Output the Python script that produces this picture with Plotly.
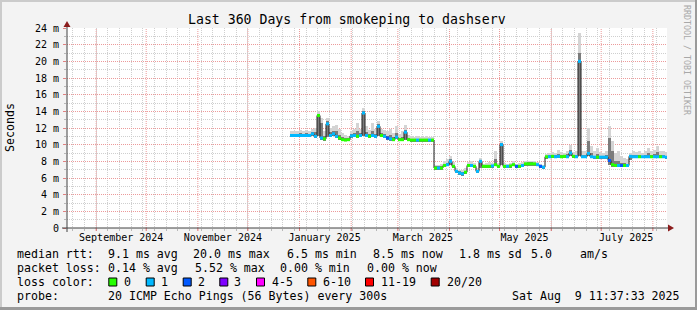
import pandas as pd
import plotly.graph_objects as go

# ---------------- data ----------------
TITLE = "Last 360 Days from smokeping to dashserv"
Y_LABEL = "Seconds"
WATERMARK = "RRDTOOL / TOBI OETIKER"
X_START = "2024-08-14 11:37:33"
X_END = "2025-08-09 11:37:33"

y_tick_values = [0, 2, 4, 6, 8, 10, 12, 14, 16, 18, 20, 22, 24]
y_tick_labels = ["0", "2 m", "4 m", "6 m", "8 m", "10 m", "12 m", "14 m",
                 "16 m", "18 m", "20 m", "22 m", "24 m"]
x_label_dates = ["2024-09-16", "2024-11-16", "2025-01-16",
                 "2025-03-16", "2025-05-16", "2025-07-16"]
x_label_texts = ["September 2024", "November 2024", "January 2025",
                 "March 2025", "May 2025", "July 2025"]

# consolidated RRD bins (1.8 days each) starting here
BIN_START = "2024-12-26 06:49:33"
BIN_HOURS = 43.2

median_ms = [
    11.1, 11.1, 11.1, 11.1, 11.1, 11.1, 11.1, 11.3,
    11.0, 13.5, 10.8, 10.7, 12.5, 11.1, 11.3, 11.0,
    10.8, 10.6, 10.55, 10.6, 11.05, 11.1, 11.0, 11.1,
    13.8, 11.1, 11.0, 11.1, 11.0, 12.2, 11.1, 11.0,
    10.8, 10.7, 10.6, 10.9, 10.6, 10.6, 11.5, 10.6,
    10.55, 10.55, 10.55, 10.55, 10.55, 10.55, 10.55, 10.55,
    7.2, 7.2, 7.2, 7.5, 7.6, 8.0, 7.4, 6.8,
    6.6, 6.5, 6.7, 7.5, 7.5, 7.4, 6.8, 8.0,
    7.4, 7.4, 7.4, 7.45, 7.6, 7.4, 10.0, 7.4,
    7.4, 7.45, 7.6, 7.4, 7.4, 7.5, 7.7, 7.7,
    7.7, 7.7, 7.6, 7.4, 7.3, 8.55, 8.55, 8.6,
    8.55, 8.6, 8.55, 8.6, 8.55, 9.0, 8.6, 8.55,
    20.0, 8.55, 8.55, 8.95, 8.55, 8.5, 8.5, 8.5,
    8.5, 8.5, 8.1, 7.6, 7.5, 7.5, 7.5, 7.5,
    7.5, 8.6, 8.55, 8.55, 8.55, 8.55, 8.55, 8.55,
    8.55, 8.55, 8.55, 8.55, 8.55, 8.5,
]

loss_pings = [
    1, 1, 1, 1, 1, 1, 1, 1,
    1, 0, 1, 0, 1, 1, 1, 1,
    0, 0, 0, 0, 1, 1, 0, 1,
    1, 1, 0, 1, 1, 1, 0, 1,
    2, 1, 0, 1, 0, 0, 1, 0,
    0, 0, 1, 0, 0, 0, 1, 0,
    0, 1, 0, 0, 1, 1, 0, 1,
    1, 1, 0, 0, 1, 0, 1, 1,
    0, 0, 0, 1, 0, 0, 1, 0,
    1, 0, 0, 2, 0, 1, 0, 0,
    0, 0, 1, 2, 1, 0, 1, 0,
    1, 1, 0, 0, 1, 1, 0, 1,
    1, 1, 1, 1, 1, 1, 0, 1,
    1, 1, 2, 0, 0, 1, 2, 0,
    1, 1, 1, 1, 0, 1, 1, 1,
    0, 1, 1, 0, 1, 1,
]

smoke_max_ms = [
    11.6, 11.7, 11.7, 11.8, 11.7, 11.8, 11.7, 11.9,
    12.0, 14.0, 13.2, 11.6, 13.2, 12.0, 12.2, 12.4,
    11.9, 11.4, 11.2, 11.1, 11.6, 11.9, 12.6, 11.9,
    14.4, 12.3, 11.8, 12.6, 11.9, 12.8, 11.9, 11.8,
    11.6, 11.9, 11.4, 12.3, 11.3, 11.6, 12.4, 11.2,
    11.0, 10.9, 11.0, 10.9, 10.9, 11.0, 10.9, 10.9,
    7.6, 7.6, 7.7, 8.0, 8.3, 8.6, 7.9, 7.2,
    7.0, 7.0, 7.2, 7.9, 8.0, 7.8, 7.2, 8.4,
    7.7, 7.8, 7.9, 7.8, 9.2, 7.8, 10.4, 7.8,
    7.7, 7.8, 8.0, 7.7, 7.8, 7.9, 8.1, 8.1,
    8.0, 8.0, 7.9, 7.7, 7.6, 8.9, 9.0, 9.1,
    9.0, 9.4, 9.1, 9.0, 9.2, 10.0, 9.1, 9.2,
    23.4, 9.2, 9.3, 12.0, 9.8, 9.2, 9.6, 9.1,
    9.0, 9.3, 12.2, 10.4, 9.0, 9.3, 8.6, 8.4,
    8.3, 9.0, 9.2, 9.1, 9.2, 9.0, 9.3, 9.6,
    9.3, 9.4, 9.9, 9.3, 9.2, 9.1,
]

smoke_mid_ms = [
    11.3, 11.3, 11.3, 11.4, 11.3, 11.4, 11.3, 11.5,
    11.5, 13.7, 12.6, 11.0, 12.9, 11.5, 11.6, 11.6,
    11.2, 10.9, 10.8, 10.8, 11.3, 11.4, 11.6, 11.4,
    14.1, 11.5, 11.3, 11.6, 11.3, 12.5, 11.4, 11.3,
    11.1, 11.2, 10.9, 11.4, 10.8, 10.9, 11.8, 10.8,
    10.7, 10.7, 10.7, 10.7, 10.7, 10.7, 10.7, 10.7,
    7.4, 7.4, 7.4, 7.7, 7.8, 8.3, 7.6, 7.0,
    6.8, 6.7, 6.9, 7.7, 7.7, 7.6, 7.0, 8.2,
    7.5, 7.6, 7.6, 7.6, 8.3, 7.6, 10.2, 7.6,
    7.6, 7.6, 7.7, 7.6, 7.6, 7.6, 7.8, 7.9,
    7.9, 7.8, 7.7, 7.6, 7.4, 8.7, 8.8, 8.8,
    8.8, 8.9, 8.8, 8.8, 8.9, 9.4, 8.8, 8.8,
    21.0, 8.8, 8.8, 10.5, 9.0, 8.7, 8.9, 8.7,
    8.7, 8.8, 10.8, 9.2, 8.0, 8.1, 7.8, 7.8,
    7.7, 8.8, 8.8, 8.8, 8.8, 8.7, 8.8, 9.0,
    8.8, 8.9, 9.1, 8.8, 8.8, 8.7,
]

smoke_min_ms = [
    10.9, 10.9, 10.9, 10.9, 10.9, 10.9, 10.9, 11.0,
    10.8, 11.0, 10.6, 10.5, 10.9, 10.9, 11.0, 10.8,
    10.6, 10.4, 10.4, 10.4, 10.8, 10.9, 10.8, 10.9,
    11.0, 10.9, 10.8, 10.9, 10.8, 11.0, 10.9, 10.8,
    10.6, 10.5, 10.4, 10.7, 10.4, 10.4, 10.6, 10.4,
    10.35, 10.35, 10.35, 10.35, 10.35, 10.35, 10.35, 10.35,
    7.0, 7.0, 7.0, 7.3, 7.4, 7.6, 7.2, 6.6,
    6.4, 6.3, 6.5, 7.3, 7.3, 7.2, 6.6, 7.2,
    7.2, 7.2, 7.2, 7.25, 7.4, 7.2, 7.6, 7.2,
    7.2, 7.25, 7.4, 7.2, 7.2, 7.3, 7.5, 7.5,
    7.5, 7.5, 7.4, 7.2, 7.1, 8.3, 8.35, 8.4,
    8.35, 8.4, 8.35, 8.4, 8.35, 8.6, 8.4, 8.35,
    8.6, 8.35, 8.35, 8.6, 8.35, 8.3, 8.3, 8.3,
    8.3, 8.3, 7.6, 7.3, 7.3, 7.3, 7.3, 7.3,
    7.3, 8.2, 8.35, 8.35, 8.35, 8.35, 8.35, 8.35,
    8.35, 8.35, 8.35, 8.35, 8.35, 8.3,
]

loss_colors = {0: "#26ff00", 1: "#00b8ff", 2: "#0059ff"}

legend_loss_labels = ["0", "1", "2", "3", "4-5", "6-10", "11-19", "20/20"]
legend_loss_colors = ["#26ff00", "#00b8ff", "#0059ff", "#7e00ff",
                      "#ff00ff", "#ff5500", "#ff0000", "#a10000"]
rtt_stats = ["median rtt:", "9.1 ms avg", "20.0 ms max", "6.5 ms min",
             "8.5 ms now", "1.8 ms sd", "5.0", "am/s"]
loss_stats = ["packet loss:", "0.14 % avg", "5.52 % max", "0.00 % min", "0.00 % now"]
loss_color_title = "loss color:"
probe_label = "probe:"
probe_text = "20 ICMP Echo Pings (56 Bytes) every 300s"
timestamp = "Sat Aug\u00a0\u00a09 11:37:33 2025"

# ---------------- geometry ----------------
W, H = 697, 310
L, R, T, B = 67, 30, 28, 82
PW, PH = W - L - R, H - T - B
MONO = "DejaVu Sans Mono"


def xp(px):
    return (px - L) / PW


def yp(py):
    return (T + PH - py) / PH


step = pd.Timedelta(hours=BIN_HOURS)
n = len(median_ms)
starts = pd.date_range(BIN_START, periods=n, freq=step)
ends = starts + step
centers = starts + step / 2
width_ms = step.total_seconds() * 1000

fig = go.Figure()

# smoke
fig.add_bar(x=centers, base=smoke_min_ms,
            y=[h - l for h, l in zip(smoke_max_ms, smoke_min_ms)],
            width=width_ms, marker=dict(color="#d4d4d4", line_width=0),
            hoverinfo="skip")
fig.add_bar(x=centers, base=smoke_min_ms,
            y=[m - l for m, l in zip(smoke_mid_ms, smoke_min_ms)],
            width=width_ms, marker=dict(color="#7c7c7c", line_width=0),
            hoverinfo="skip")

# median line (black)
fig.add_scatter(x=list(starts) + [ends[-1]], y=median_ms + [median_ms[-1]],
                mode="lines", line=dict(color="#202020", width=1, shape="hv"),
                hoverinfo="skip")

# loss-coloured median segments
for lvl, col in loss_colors.items():
    xs, ys = [], []
    for s, e, m, lo in zip(starts, ends, median_ms, loss_pings):
        if lo == lvl:
            xs += [s, e, None]
            ys += [m, m, None]
    fig.add_scatter(x=xs, y=ys, mode="lines", line=dict(color=col, width=3),
                    connectgaps=False, hoverinfo="skip")

month_starts = pd.date_range("2024-09-01", "2025-08-01", freq="MS")
week_starts = pd.date_range("2024-08-18", "2025-08-08", freq="W-SUN")

GRID_MAJOR = "#ec9a9a"
GRID_MINOR = "#cfcfcf"

fig.update_layout(
    width=W, height=H, autosize=False,
    margin=dict(l=L, r=R, t=T, b=B, pad=0),
    paper_bgcolor="#f3f3f3", plot_bgcolor="#ffffff",
    showlegend=False, barmode="overlay", bargap=0,
    font=dict(family=MONO, size=10, color="#000000"),
    xaxis=dict(
        type="date", range=[X_START, X_END],
        tickmode="array", tickvals=x_label_dates, ticktext=x_label_texts,
        ticks="", showgrid=False, zeroline=False, showline=False,
        tickfont=dict(family=MONO, size=10, color="#000000"),
        ticklabelstandoff=2,
        minor=dict(tickmode="array", tickvals=week_starts, showgrid=True,
                   gridcolor=GRID_MINOR, griddash="1px,1px", gridwidth=1,
                   ticks="outside", ticklen=2, tickcolor="#b8b8b8"),
    ),
    yaxis=dict(
        range=[0, 24], tickmode="array", tickvals=y_tick_values,
        ticktext=y_tick_labels, ticks="outside", ticklen=3,
        tickcolor="#e08080", showgrid=True, gridcolor=GRID_MAJOR,
        griddash="1px,1px", gridwidth=1, zeroline=False, showline=False,
        tickfont=dict(family=MONO, size=10, color="#000000"),
        ticklabelstandoff=2,
        minor=dict(tick0=0, dtick=1, showgrid=True, gridcolor=GRID_MINOR,
                   griddash="1px,1px", gridwidth=1, ticks="outside",
                   ticklen=2, tickcolor="#b8b8b8"),
    ),
)

shapes = []
# monthly major grid lines + ticks
for d in month_starts:
    shapes.append(dict(type="line", xref="x", yref="paper", x0=d, x1=d,
                       y0=0, y1=1, layer="between",
                       line=dict(color=GRID_MAJOR, width=1, dash="1px,1px")))
    shapes.append(dict(type="line", xref="x", yref="paper", x0=d, x1=d,
                       y0=yp(231), y1=0, layer="above",
                       line=dict(color="#e07070", width=1)))
# axis lines
shapes.append(dict(type="line", xref="paper", yref="paper", x0=xp(62), x1=xp(668),
                   y0=yp(228), y1=yp(228), layer="above",
                   line=dict(color="#404040", width=1)))
shapes.append(dict(type="line", xref="paper", yref="paper", x0=xp(67), x1=xp(67),
                   y0=yp(232), y1=yp(26), layer="above",
                   line=dict(color="#404040", width=1)))
# arrows
shapes.append(dict(type="path", xref="paper", yref="paper", layer="above",
                   path=f"M {xp(668)},{yp(224.5)} L {xp(674)},{yp(228)} L {xp(668)},{yp(231.5)} Z",
                   fillcolor="#8b1c1c", line=dict(width=0)))
shapes.append(dict(type="path", xref="paper", yref="paper", layer="above",
                   path=f"M {xp(63.5)},{yp(27)} L {xp(67)},{yp(21)} L {xp(70.5)},{yp(27)} Z",
                   fillcolor="#8b1c1c", line=dict(width=0)))
# 3D frame
for (x0, x1, y0, y1, c) in [(0, 697, 0, 2, "#cbcbcb"), (0, 2, 0, 310, "#cbcbcb"),
                            (0, 697, 307, 310, "#9a9a9a"), (695, 697, 0, 310, "#9a9a9a")]:
    shapes.append(dict(type="rect", xref="paper", yref="paper", layer="above",
                       x0=xp(x0), x1=xp(x1), y0=yp(y1), y1=yp(y0),
                       fillcolor=c, line=dict(width=0)))
# loss colour swatches
swatch_x = [108.3, 145.7, 182.7, 219.3, 256, 307.3, 365, 430.7]
for sx, col in zip(swatch_x, legend_loss_colors):
    shapes.append(dict(type="rect", xref="paper", yref="paper", layer="above",
                       x0=xp(sx + 0.5), x1=xp(sx + 8.5), y0=yp(286), y1=yp(278),
                       fillcolor=col, line=dict(color="#000000", width=1)))
fig.update_layout(shapes=shapes)

annotations = []


def ann(text, px, py, size=11.6, xanchor="left", color="#000000", angle=0):
    annotations.append(dict(text=text, xref="paper", yref="paper",
                            x=xp(px), y=yp(py), xanchor=xanchor, yanchor="middle",
                            showarrow=False, borderpad=0, textangle=angle,
                            font=dict(family=MONO, size=size, color=color)))


ann(TITLE, 347.2, 19.3, size=13.2, xanchor="center")
ann(Y_LABEL, 10, 128, size=11.6, xanchor="center", angle=-90)
ann(WATERMARK, 687, 60, size=8.3, xanchor="center", color="#a8a8a8", angle=90)

line_y = [254.2, 268.2, 282, 296]
rtt_x = [16, 107.3, 192.3, 286, 372.3, 457.7, 530, 579.3]
for t, px in zip(rtt_stats, rtt_x):
    ann(t, px, line_y[0])
loss_x = [16, 107.3, 194.3, 279.3, 365.7]
for t, px in zip(loss_stats, loss_x):
    ann(t, px, line_y[1])
ann(loss_color_title, 16, line_y[2])
lbl_x = [123.3, 160, 197.3, 233.3, 270.7, 321.7, 380, 445.7]
for t, px in zip(legend_loss_labels, lbl_x):
    ann(t, px, line_y[2])
ann(probe_label, 16, line_y[3])
ann(probe_text, 107.3, line_y[3])
ann(timestamp, 680.5, line_y[3], xanchor="right")

fig.update_layout(annotations=annotations)

fig.write_html("out.html")
